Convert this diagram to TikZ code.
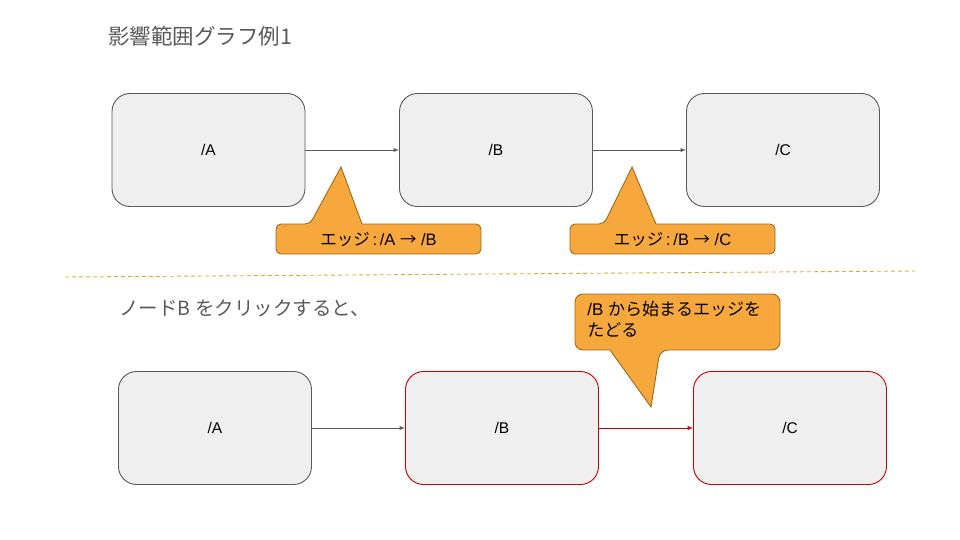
\documentclass[tikz,border=0pt]{standalone}
\usepackage{fontspec}
\setmainfont{Liberation Sans}
\newfontfamily\jp{Noto Sans CJK JP}
\definecolor{boxfill}{HTML}{EFEFEF}
\definecolor{boxline}{HTML}{595959}
\definecolor{tagfill}{HTML}{F6A83C}
\definecolor{tagline}{HTML}{9C6A1E}
\definecolor{hit}{HTML}{CC0000}
\definecolor{sep}{HTML}{DDAA33}
\begin{document}
\begin{tikzpicture}[x=1pt, y=-1pt, font=\fontsize{15.5}{18}\selectfont, line width=0.9pt,
  page/.style={draw=boxline, fill=boxfill, rounded corners=18pt, minimum width=193pt, minimum height=113pt, inner sep=0pt},
  hitpage/.style={page, draw=hit},
  link/.style={draw=boxline, -latex},
  hitlink/.style={draw=hit, -latex},
  tag/.style={draw=tagline, fill=tagfill, rounded corners=5pt}]
\useasboundingbox (0, 0) rectangle (960, 540);
%Titles
\node[anchor=west, inner sep=0pt, text=boxline, font=\jp\fontsize{21.5}{24}\selectfont] (title) at (108, 36) {影響範囲グラフ例1};
\node[anchor=west, inner sep=0pt, text=boxline, font=\jp\fontsize{19.5}{22}\selectfont] (step) at (119, 308) {ノードB をクリックすると、};
\draw[sep, dash pattern=on 4pt off 3pt] (65, 277) -- (915, 271);
%Before
\node[page] (a1) at (208.5, 150) {/A};
\node[page] (b1) at (496, 150) {/B};
\node[page] (c1) at (783, 150) {/C};
\draw[link] (a1) -- (b1);
\draw[link] (b1) -- (c1);
\filldraw[tag] (310, 224) [sharp corners] -- (341, 167) -- (362, 224) [rounded corners=5pt] -- (481, 224) -- (481, 254) -- (276, 254) -- (276, 224) -- cycle;
\node[font=\fontsize{16.5}{18}\selectfont] (e1) at (378.5, 240) {{\jp エッジ}\,:\,/A {\jp →} /B};
\filldraw[tag] (604, 224) [sharp corners] -- (632, 167) -- (656, 224) [rounded corners=5pt] -- (775, 224) -- (775, 254) -- (570, 254) -- (570, 224) -- cycle;
\node[font=\fontsize{16.5}{18}\selectfont] (e2) at (672.5, 240) {{\jp エッジ}\,:\,/B {\jp →} /C};
%After
\node[page] (a2) at (215, 428) {/A};
\node[hitpage] (b2) at (502, 428) {/B};
\node[hitpage] (c2) at (790, 428) {/C};
\draw[link] (a2) -- (b2);
\draw[hitlink] (b2) -- (c2);
\filldraw[tag] (660, 350) [sharp corners] -- (651, 407) -- (610, 350) [rounded corners=8pt] -- (575, 350) -- (575, 294) -- (780, 294) -- (780, 350) -- cycle;
\node[anchor=north west, align=left, inner sep=0pt, font=\fontsize{17}{21}\selectfont] (e3) at (587, 301) {/B {\jp から始まるエッジを}\\{\jp たどる}};
\end{tikzpicture}
\end{document}
